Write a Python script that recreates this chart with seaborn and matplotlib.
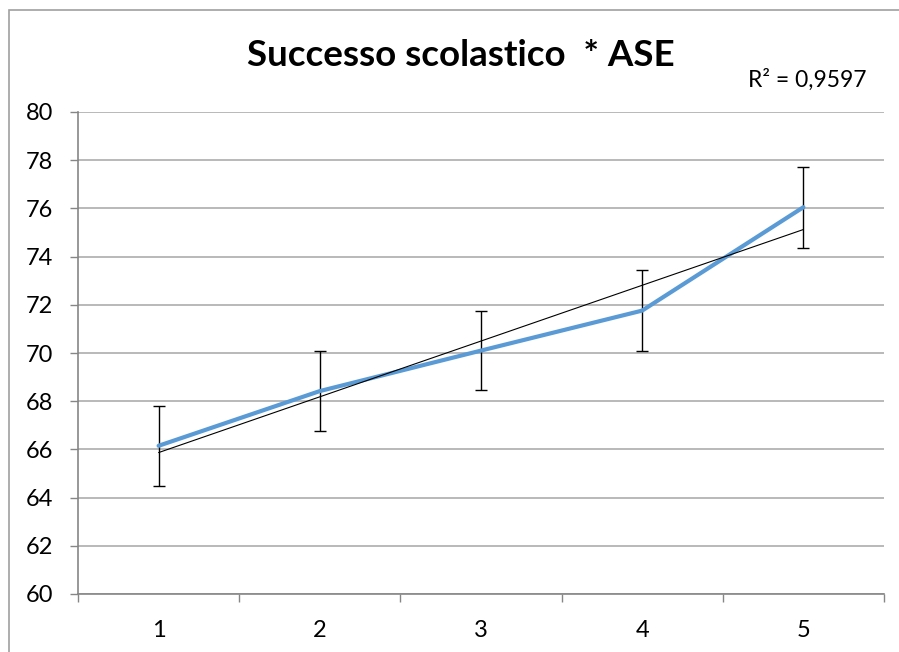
import numpy as np
import pandas as pd
import matplotlib
matplotlib.use("Agg")
import matplotlib.pyplot as plt
import matplotlib.patches as mpatches
import seaborn as sns

# dati
categorie = [1, 2, 3, 4, 5]
successo = [66.15, 68.42, 70.10, 71.76, 76.05]
errore = [1.66, 1.66, 1.64, 1.68, 1.68]
titolo = "Successo scolastico  * ASE"
testo_r2 = "R² = 0,9597"

df = pd.DataFrame({"ase": categorie, "successo": successo, "err": errore})

sns.set_theme(style="white")
plt.rcParams['font.family'] = ['Lato', 'DejaVu Sans']

fig = plt.figure(figsize=(8.99, 6.52), dpi=100)
ax = fig.add_axes([78/899, 58/652, (884-78)/899, (594-112)/652])

# griglia
ax.set_ylim(60, 80)
ax.set_yticks(np.arange(60, 81, 2))
ax.yaxis.grid(True, color='#a6a6a6', linewidth=1.1)
ax.set_axisbelow(True)

# barre di errore
ax.errorbar(df["ase"], df["successo"], yerr=df["err"], fmt='none',
            ecolor='black', elinewidth=1.0, capsize=4.5, capthick=1.0, zorder=3)

# linea dati
sns.lineplot(data=df, x="ase", y="successo", ax=ax, color='#5b9bd5',
             linewidth=3.0, zorder=4)

# linea di tendenza lineare
sns.regplot(data=df, x="ase", y="successo", ax=ax, scatter=False, ci=None,
            truncate=True, line_kws={'color': 'black', 'linewidth': 0.8, 'zorder': 5})

ax.set_xlim(0.5, 5.5)
ax.set_xticks(categorie)
ax.set_xticklabels([str(c) for c in categorie])
ax.set_xticks(np.arange(0.5, 5.6, 1), minor=True)
ax.tick_params(axis='x', which='major', length=0, pad=19, labelsize=17, colors='black')
ax.tick_params(axis='x', which='minor', length=6, width=1.0, color='#868686', bottom=True)
ax.tick_params(axis='y', length=6, width=1.0, color='#868686', pad=12, labelsize=17,
               labelcolor='black', left=True)
ax.set_xlabel("")
ax.set_ylabel("")

for s in ['top', 'right']:
    ax.spines[s].set_visible(False)
for s in ['left', 'bottom']:
    ax.spines[s].set_color('#868686')
    ax.spines[s].set_linewidth(1.2)

# titolo e R²
fig.text(461/899, 1 - 55/652, titolo, ha='center', va='center',
         fontsize=26.5, fontweight='bold', color='black')
fig.text(748/899, 1 - 80/652, testo_r2, ha='left', va='center',
         fontsize=16.5, color='black')

# cornice dell'area del grafico
cornice = mpatches.Rectangle((9/899, -0.2), 1.5, 0.2 + 1 - 10/652,
                             transform=fig.transFigure, fill=False,
                             edgecolor='#a0a0a0', linewidth=1.2, clip_on=False)
fig.patches.append(cornice)

fig.savefig("out.png", dpi=100)
plt.close(fig)
